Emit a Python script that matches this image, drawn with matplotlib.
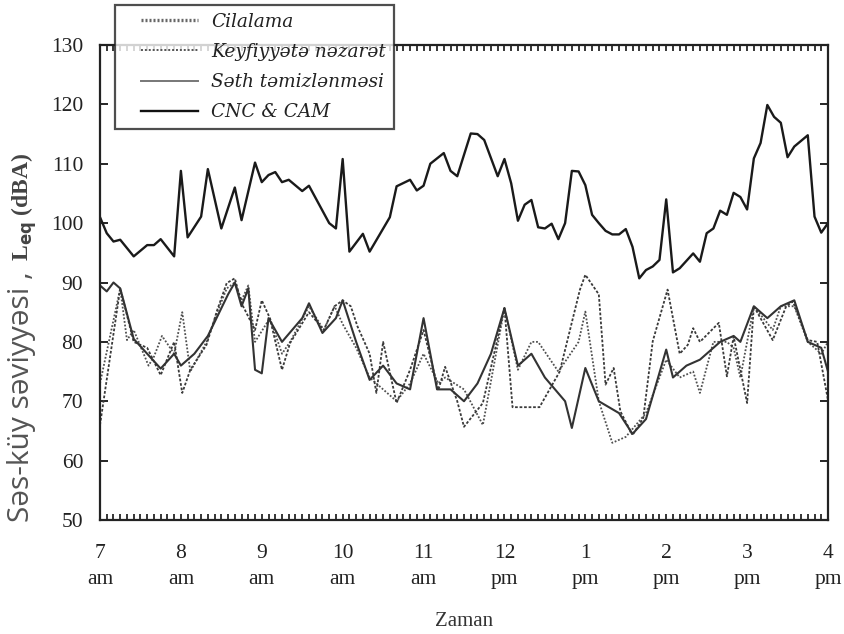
import matplotlib
matplotlib.use('Agg')
import matplotlib.pyplot as plt
from matplotlib.ticker import MultipleLocator, FixedLocator
from matplotlib.lines import Line2D
from matplotlib.legend_handler import HandlerLine2D

# ---------------- data (minutes after 7:00 am, dBA) ----------------
hour_labels = ['7\nam', '8\nam', '9\nam', '10\nam', '11\nam',
               '12\npm', '1\npm', '2\npm', '3\npm', '4\npm']
series_names = ['Cilalama', 'Keyfiyyətə nəzarət', 'Səth təmizlənməsi', 'CNC & CAM']

cnc_min = [0, 5, 10, 15, 25, 35, 40, 45, 55, 60, 65, 75, 80, 90, 100, 105, 115, 120,
           125, 130, 135, 140, 150, 155, 170, 175, 180, 185, 195, 200, 215, 220, 230,
           235, 240, 245, 255, 260, 265, 275, 280, 285, 295, 300, 305, 310, 315, 320,
           325, 330, 335, 340, 345, 350, 355, 360, 365, 370, 375, 380, 385, 390, 395,
           400, 405, 410, 415, 420, 425, 430, 440, 445, 450, 455, 460, 465, 470, 475,
           480, 485, 490, 495, 500, 505, 510, 515, 525, 530, 535, 540]
cnc_val = [101.0, 98.3, 96.9, 97.2, 94.4, 96.3, 96.3, 97.3, 94.4, 108.8, 97.6, 101.1,
           109.1, 99.1, 106.0, 100.5, 110.2, 106.9, 108.1, 108.6, 106.9, 107.3, 105.4,
           106.3, 100.0, 99.1, 110.8, 95.2, 98.2, 95.2, 101.0, 106.2, 107.3, 105.5,
           106.3, 110.0, 111.8, 108.8, 107.9, 115.1, 115.0, 114.0, 107.9, 110.8, 106.7,
           100.4, 103.1, 103.9, 99.3, 99.1, 99.9, 97.3, 100.0, 108.8, 108.7, 106.4,
           101.4, 100.0, 98.7, 98.1, 98.1, 99.0, 96.0, 90.7, 92.1, 92.7, 93.8, 104.0,
           91.7, 92.4, 94.9, 93.5, 98.3, 99.1, 102.1, 101.4, 105.1, 104.4, 102.3, 110.9,
           113.5, 119.9, 117.9, 116.9, 111.1, 112.9, 114.8, 101.1, 98.4, 100.0]

sath_min = [0, 5, 10, 15, 25, 35, 45, 55, 60, 70, 80, 95, 100, 105, 110, 115, 120,
            125, 135, 150, 155, 165, 175, 180, 190, 200, 210, 220, 230, 240, 250, 260,
            270, 280, 290, 300, 310, 320, 330, 345, 350, 360, 370, 385, 395, 405, 420,
            425, 435, 445, 460, 470, 475, 485, 495, 505, 515, 525, 535, 540]
sath_val = [89.5, 88.5, 90, 89, 80.5, 78, 75.5, 78, 76, 78, 81, 88, 90, 86, 89, 75.3, 74.7,
            84, 80, 84, 86.5, 81.5, 84, 87, 80, 73.6, 76, 73, 72, 84, 72, 72,
            70, 73, 78, 85.7, 76, 78, 74, 70, 65.5, 75.6, 70, 68, 64.5, 67, 78.7,
            74, 76, 77, 80, 81, 80, 86, 84, 86, 87, 80, 79, 75]

keyf_min = [0, 15, 25, 35, 45, 55, 61, 67, 79, 87, 94, 100, 105, 115, 120, 126, 135,
            141, 155, 166, 174, 180, 186, 191, 200, 205, 210, 220, 230, 240, 251, 256,
            265, 270, 284, 300, 306, 326, 341, 356, 360, 370, 375, 381, 386, 395, 403,
            410, 421, 430, 436, 440, 445, 459, 465, 470, 480, 485, 499, 509, 514, 525,
            532, 540]
keyf_val = [66, 89, 80, 79, 74.4, 80, 71.4, 75.3, 79.5, 85.4, 89.9, 90.7, 86.5, 82, 87,
            84, 75.3, 79.8, 85, 82, 86, 87, 86, 82.6, 78, 71.4, 80, 69.7, 75.3, 82,
            71.9, 75.8, 70, 65.7, 69.7, 85.7, 69, 69, 75, 88.8, 91.3, 88, 72.8, 75.6,
            68.3, 64.3, 67.2, 80.1, 88.8, 78, 79.5, 82.3, 80, 83.2, 74.2, 80.9, 69.7,
            86, 80.3, 86, 86.8, 80.3, 80, 70.2]

cila_min = [0, 15, 20, 25, 36, 40, 46, 55, 61, 67, 79, 87, 94, 100, 105, 110, 115, 126,
            135, 141, 155, 166, 174, 180, 190, 200, 210, 220, 230, 240, 251, 256, 270,
            284, 300, 310, 320, 325, 340, 355, 360, 370, 380, 390, 405, 420, 430, 440,
            445, 455, 465, 470, 475, 485, 499, 505, 515, 525, 535, 540]
cila_val = [73, 89, 80.3, 82, 76, 77.5, 81, 78, 85, 75, 80, 85, 89, 90, 87, 89.5, 80,
            84, 78, 80, 86, 82, 86, 83, 79, 74, 72, 70, 73, 78, 73, 74, 72,
            66, 85.7, 75.3, 80, 80, 75, 80, 85.1, 70, 63, 64, 68, 77, 74, 75,
            71.4, 80, 80, 79, 74, 86, 82, 86, 86, 80, 78, 80]

# ---------------- figure ----------------
W, H = 845, 634
fig = plt.figure(figsize=(W / 100, H / 100), dpi=100)
ax = fig.add_axes([100 / W, 1 - 520 / H, (828 - 100) / W, (520 - 45) / H])

ax.plot(cila_min, cila_val, color='#505050', lw=1.3, ls=(0, (1, 1)))
ax.plot(keyf_min, keyf_val, color='#3a3a3a', lw=1.3, ls=(0, (1.5, 1)))
ax.plot(sath_min, sath_val, color='#333333', lw=1.5, ls='-')
ax.plot(cnc_min, cnc_val, color='#1a1a1a', lw=1.7, ls='-')

ax.set_xlim(0, 540)
ax.set_ylim(50, 130)
ax.xaxis.set_major_locator(FixedLocator(list(range(0, 541, 60))))
ax.xaxis.set_minor_locator(MultipleLocator(5))
ax.set_xticklabels(hour_labels, fontfamily='Liberation Serif', fontsize=15.5,
                   color='#222222', linespacing=1.45)
ax.yaxis.set_major_locator(MultipleLocator(10))
for lab in ax.get_yticklabels():
    lab.set_fontfamily('Liberation Serif')
ax.tick_params(axis='y', which='major', direction='in', length=6, width=1.2,
               left=True, right=True, labelsize=15.5, labelcolor='#222222', pad=12)
ax.tick_params(axis='x', which='both', direction='in', length=4, width=1.1,
               top=True, bottom=True, labelsize=15.5, labelcolor='#222222', pad=17.5)
for sp in ax.spines.values():
    sp.set_linewidth(1.6)
    sp.set_color('#222222')

ax.set_xlabel('Zaman', fontfamily='Liberation Serif', fontsize=15, color='#333333',
              labelpad=17)

# y label: sans part + bold serif part
t1 = fig.text(22 / W, 1 - 522 / H, 'Səs-küy səviyyəsi ,', rotation=90,
              ha='center', va='bottom', fontfamily='Open Sans', fontsize=21.5,
              color='#555555')
fig.canvas.draw()
bb = t1.get_window_extent()
t2 = fig.text(24 / W, (bb.y1 + 10) / H, r'L$_{\mathbf{eq}}$ (dBA)', rotation=90,
              ha='center', va='bottom', fontfamily='Liberation Serif', fontsize=17,
              fontweight='bold', color='#444444')

# legend
handles = [
    Line2D([], [], color='#666666', lw=2.4, ls=(0, (0.6, 0.6))),
    Line2D([], [], color='#555555', lw=1.4, ls=(0, (1, 1))),
    Line2D([], [], color='#777777', lw=1.4, ls='-'),
    Line2D([], [], color='#111111', lw=1.7, ls='-'),
]
leg = fig.legend(handles, series_names, loc='upper left',
                 bbox_to_anchor=(115 / W, 1 - 5 / H), borderaxespad=0,
                 frameon=True, fancybox=False,
                 edgecolor='#222222', handlelength=4.1, handletextpad=0.7,
                 borderpad=0.42, labelspacing=0.66,
                 handler_map={Line2D: HandlerLine2D(xpad=1.0)},
                 prop={'family': 'DejaVu Serif', 'style': 'italic', 'size': 13.3})
leg.get_frame().set_linewidth(1.6)
for t in leg.get_texts():
    t.set_color('#222222')

fig.savefig('out.png', dpi=100)
